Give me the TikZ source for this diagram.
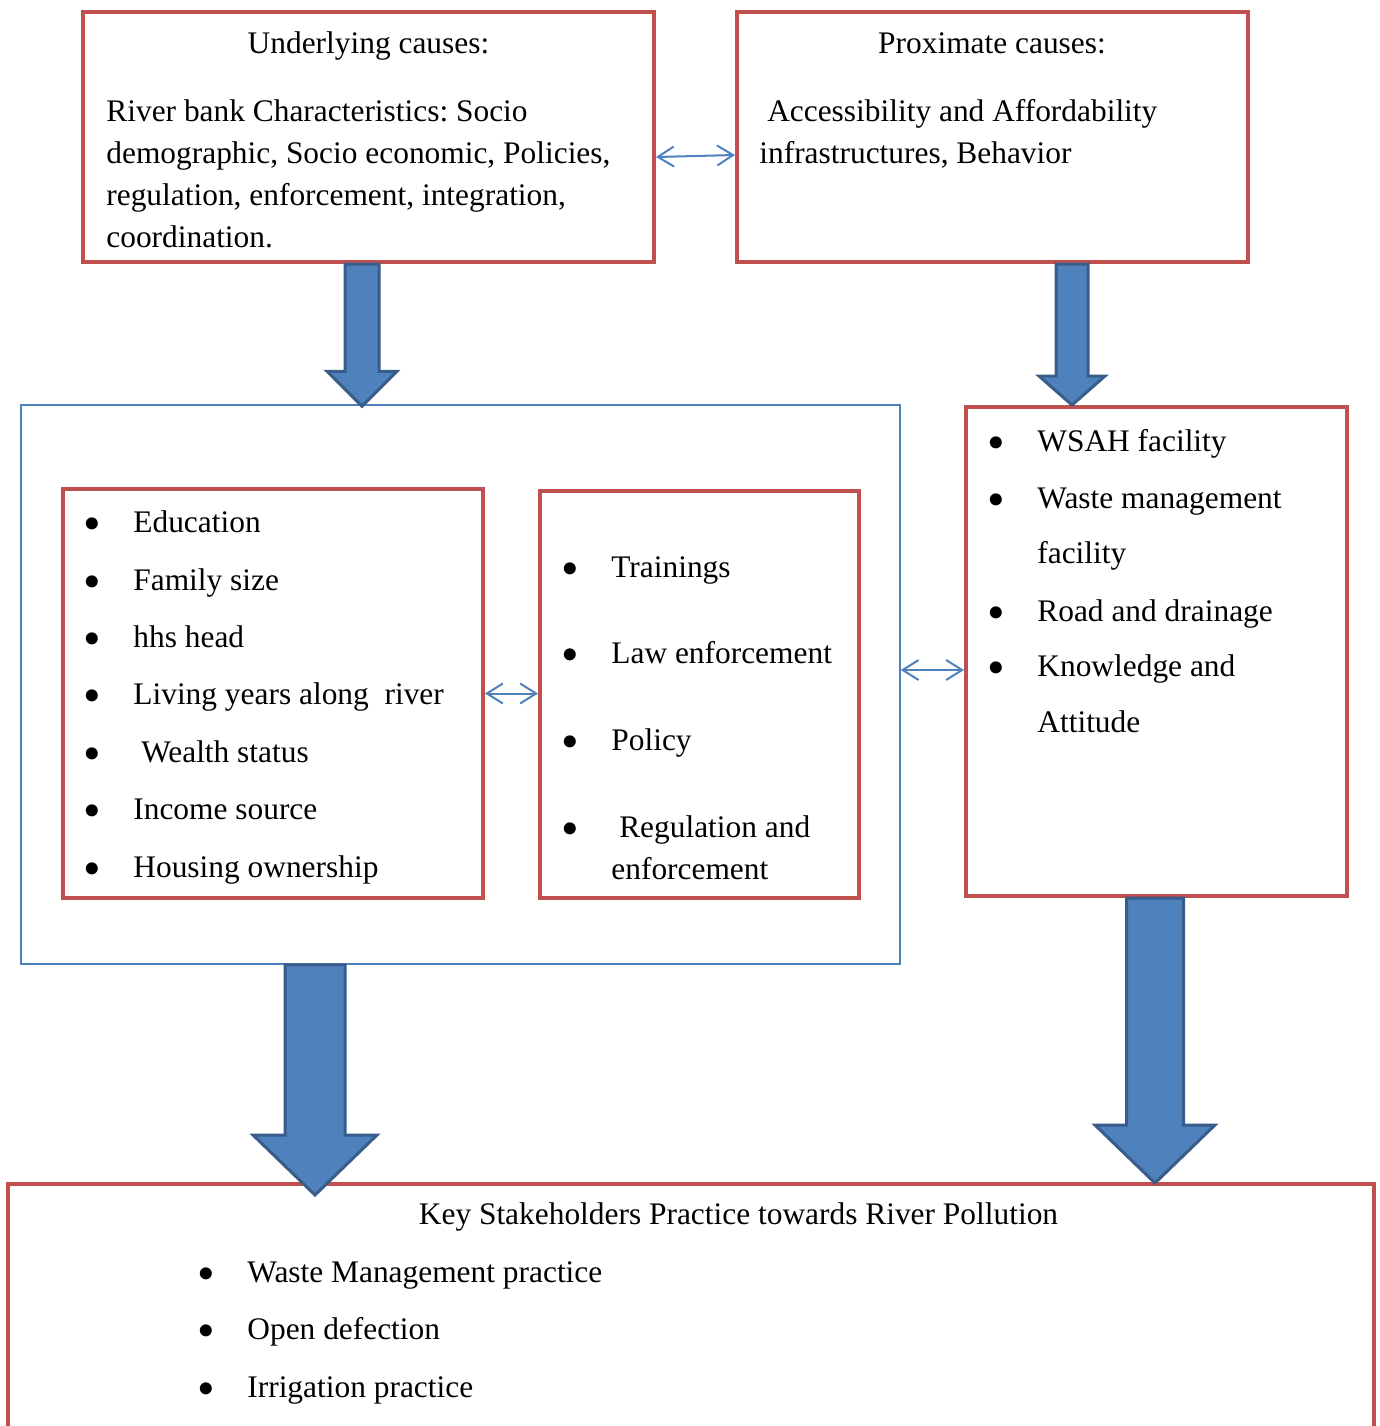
\documentclass[tikz,border=0pt]{standalone}
\usepackage{fontspec}
\setmainfont{Liberation Serif}
\usepackage{tikz}
\usetikzlibrary{arrows.meta,calc}
\definecolor{boxred}{HTML}{C0504D}
\definecolor{arrblue}{HTML}{4F81BD}
\definecolor{arrdark}{HTML}{385D8A}
\tikzset{
  causebox/.style={draw=boxred, line width=2pt, inner sep=0pt},
  groupbox/.style={draw=arrblue, line width=0.75pt, inner sep=0pt},
  bodytext/.style={anchor=base west, inner sep=0pt, text width=300pt, align=flush left,
                   font=\fontsize{15.7pt}{21.15pt}\selectfont\frenchspacing},
  title/.style={anchor=base, inner sep=0pt, font=\fontsize{15.7pt}{19pt}\selectfont},
  item/.style={anchor=base west, inner sep=0pt, font=\fontsize{15.7pt}{19pt}\selectfont},
  linkarrow/.style={<->, >={Straight Barb[length=8pt,width=10pt]}, draw=arrblue, line width=1pt},
  fatarrow/.style={draw=arrdark, fill=arrblue, line width=1.5pt, line join=miter}
}
\newcommand{\bul}{\makebox[0pt][r]{\raisebox{-4.2pt}{\scalebox{1.6}{\textbullet}}\hspace{16pt}}}
% x, from node, to node, half shaft, half head, head length, overshoot
\newcommand{\fatarrow}[7]{%
  \draw[fatarrow] let \p1=(#1,0 |- #2.south), \p2=(#1,0 |- #3.north) in
    (\x1-#4,\y1) -- (\x1+#4,\y1) -- (\x1+#4,\y2-#7+#6) -- (\x1+#5,\y2-#7+#6)
    -- (\x1,\y2-#7) -- (\x1-#5,\y2-#7+#6) -- (\x1-#4,\y2-#7+#6) -- cycle;}

\begin{document}
\begin{tikzpicture}[x=0.5pt, y=-0.5pt]
    \useasboundingbox (0,0) rectangle (1380,1426);
    \clip (0,0) rectangle (1380,1426);

    % Boxes
    \node[causebox, minimum width=285.5pt, minimum height=125pt] (U) at (368.5,137) {};
    \node[causebox, minimum width=255.5pt, minimum height=125pt] (P) at (992.5,137) {};
    \node[groupbox, minimum width=439.5pt, minimum height=279.5pt] (C) at (460.5,684.5) {};
    \node[causebox, minimum width=210pt, minimum height=204.5pt] (A) at (273,693.5) {};
    \node[causebox, minimum width=159.5pt, minimum height=203.5pt] (B) at (699.5,694.5) {};
    \node[causebox, minimum width=190.5pt, minimum height=244.5pt] (W) at (1156.5,651.5) {};
    \node[causebox, minimum width=683pt, minimum height=138pt] (K) at (691,1322) {};

    % Underlying causes
    \node[title] (Ut) at (368.5,53) {Underlying causes:};
    \node[bodytext] (Ub) at (106,121) {River bank Characteristics: Socio\\
      demographic, Socio economic, Policies,\\
      regulation, enforcement, integration,\\
      coordination.};

    % Proximate causes
    \node[title] (Pt) at (992,53) {Proximate causes:};
    \node[bodytext] (Pb) at (759,121) {\ Accessibility and Affordability\\
      infrastructures, Behavior};

    % Household characteristics
    \foreach \y/\t [count=\i] in {532/Education, 590/Family size, 647/hhs head,
        704/{Living years along~ river}, 762/{\ Wealth status}, 819/Income source,
        877/Housing ownership}
      \node[item] (a\i) at (133,\y) {\bul\t};

    % Institutional factors
    \foreach \y/\t [count=\i] in {577/Trainings, 663/Law enforcement, 750/Policy,
        837/{\ Regulation and}}
      \node[item] (b\i) at (611,\y) {\bul\t};
    \node[item] (b5) at (611,879) {enforcement};

    % Facilities
    \foreach \y/\t [count=\i] in {451/WSAH facility, 508/Waste management,
        621/Road and drainage, 676/Knowledge and}
      \node[item] (w\i) at (1037,\y) {\bul\t};
    \node[item] (w5) at (1037,563) {facility};
    \node[item] (w6) at (1037,732) {Attitude};

    % Practice
    \node[title] (Kt) at (738.5,1224) {Key Stakeholders Practice towards River Pollution};
    \foreach \y/\t [count=\i] in {1282/Waste Management practice, 1339/Open defection,
        1397/Irrigation practice}
      \node[item] (k\i) at (247,\y) {\bul\t};

    % Links
    \draw[linkarrow] (U.east |- 0,157) -- (P.west |- 0,155);
    \draw[linkarrow] (A.east) -- (A.east -| B.west);
    \draw[linkarrow] (C.east |- 0,670) -- (W.west |- 0,670);

    % Block arrows
    \fatarrow{362}{U}{C}{8.5pt}{17.5pt}{17.5pt}{1pt}
    \fatarrow{1072}{P}{W}{8pt}{16.5pt}{14.5pt}{0pt}
    \fatarrow{315}{C}{K}{15pt}{31pt}{30pt}{6.5pt}
    \fatarrow{1155}{W}{K}{14.25pt}{30pt}{29pt}{0.5pt}
\end{tikzpicture}
\end{document}
